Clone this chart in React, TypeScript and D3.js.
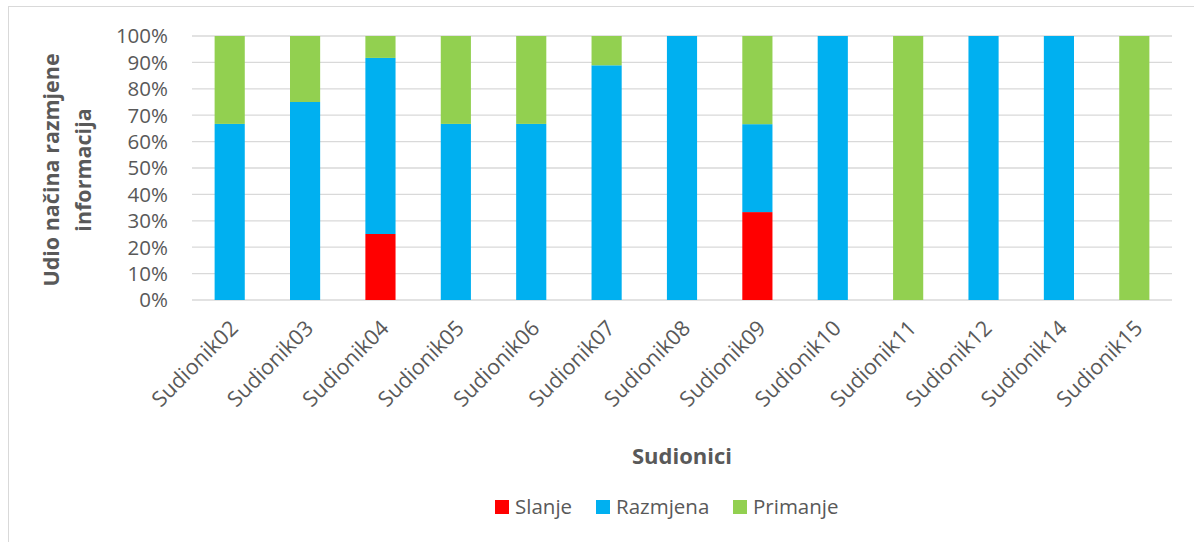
import React from "react";
import * as d3 from "d3";

const categories = [
  "Sudionik02", "Sudionik03", "Sudionik04", "Sudionik05", "Sudionik06", "Sudionik07",
  "Sudionik08", "Sudionik09", "Sudionik10", "Sudionik11", "Sudionik12", "Sudionik14", "Sudionik15",
];
const seriesNames = ["Slanje", "Razmjena", "Primanje"];
const slanje = [0, 0, 25, 0, 0, 0, 0, 33.3, 0, 0, 0, 0, 0];
const razmjena = [66.7, 75, 66.7, 66.7, 66.7, 88.9, 100, 33.3, 100, 0, 100, 100, 0];
const primanje = [33.3, 25, 8.3, 33.3, 33.3, 11.1, 0, 33.4, 0, 100, 0, 0, 100];
const yTicks = [0, 10, 20, 30, 40, 50, 60, 70, 80, 90, 100];
const colors = ["#FF0000", "#00B0F0", "#92D050"];

const width = 1194;
const height = 542;
const margin = { top: 36, left: 192, right: 22, bottom: 242 };
const textColor = "#595959";
const font = "'Open Sans', sans-serif";

export default function App() {
  const iwidth = width - margin.left - margin.right;
  const iheight = height - margin.top - margin.bottom;

  const x = d3.scaleBand().domain(categories).range([0, iwidth]).paddingInner(0.6).paddingOuter(0.3);
  const y = d3.scaleLinear().domain([0, 100]).range([iheight, 0]);

  const table = categories.map((c, i) => ({
    name: c,
    Slanje: slanje[i],
    Razmjena: razmjena[i],
    Primanje: primanje[i],
  }));
  const stacked = d3.stack<any>().keys(seriesNames)(table);

  const legendItems = [
    { name: "Slanje", x: 495 },
    { name: "Razmjena", x: 596 },
    { name: "Primanje", x: 733 },
  ];

  return (
    <svg width={width} height={height} style={{ position: "absolute", left: 0, top: 0 }}>
      <rect x={8.5} y={6.5} width={width} height={height} fill="white" stroke="#D9D9D9" />
      <g transform={`translate(${margin.left}, ${margin.top})`}>
        {yTicks.map((t) => (
          <g key={t}>
            <line x1={0} x2={iwidth} y1={y(t)} y2={y(t)} stroke="#D9D9D9" strokeWidth={1.3} />
            <text x={-24} y={y(t)} dy="0.36em" textAnchor="end" fill={textColor}
              fontFamily={font} fontSize={20.5}>{t}%</text>
          </g>
        ))}
        {stacked.map((s, si) => (
          <g key={s.key} fill={colors[si]}>
            {s.map((d, i) => (
              <rect key={i} x={x(categories[i])} y={y(d[1])}
                width={x.bandwidth()} height={Math.max(0, y(d[0]) - y(d[1]))} />
            ))}
          </g>
        ))}
        {categories.map((c) => {
          const cx = (x(c) as number) + x.bandwidth() / 2;
          return (
            <text key={c} transform={`translate(${cx - 1}, ${iheight + 19}) rotate(-45)`}
              textAnchor="end" dy="0.7em" fill={textColor} fontFamily={font} fontSize={21.5}>{c}</text>
          );
        })}
      </g>
      <text transform={`translate(51, 170) rotate(-90)`} textAnchor="middle" fill={textColor}
        fontFamily={font} fontSize={21.5} fontWeight="bold">
        <tspan x={0} dy="0.35em">Udio načina razmjene</tspan>
        <tspan x={0} dy="1.5em">informacija</tspan>
      </text>
      <text x={margin.left + iwidth / 2} y={464} textAnchor="middle" fill={textColor}
        fontFamily={font} fontSize={22} fontWeight="bold">Sudionici</text>
      {legendItems.map((l, i) => (
        <g key={l.name}>
          <rect x={l.x} y={500} width={14} height={14} fill={colors[i]} />
          <text x={l.x + 20} y={507} dy="0.36em" fill={textColor} fontFamily={font} fontSize={20.5}>{l.name}</text>
        </g>
      ))}
    </svg>
  );
}
